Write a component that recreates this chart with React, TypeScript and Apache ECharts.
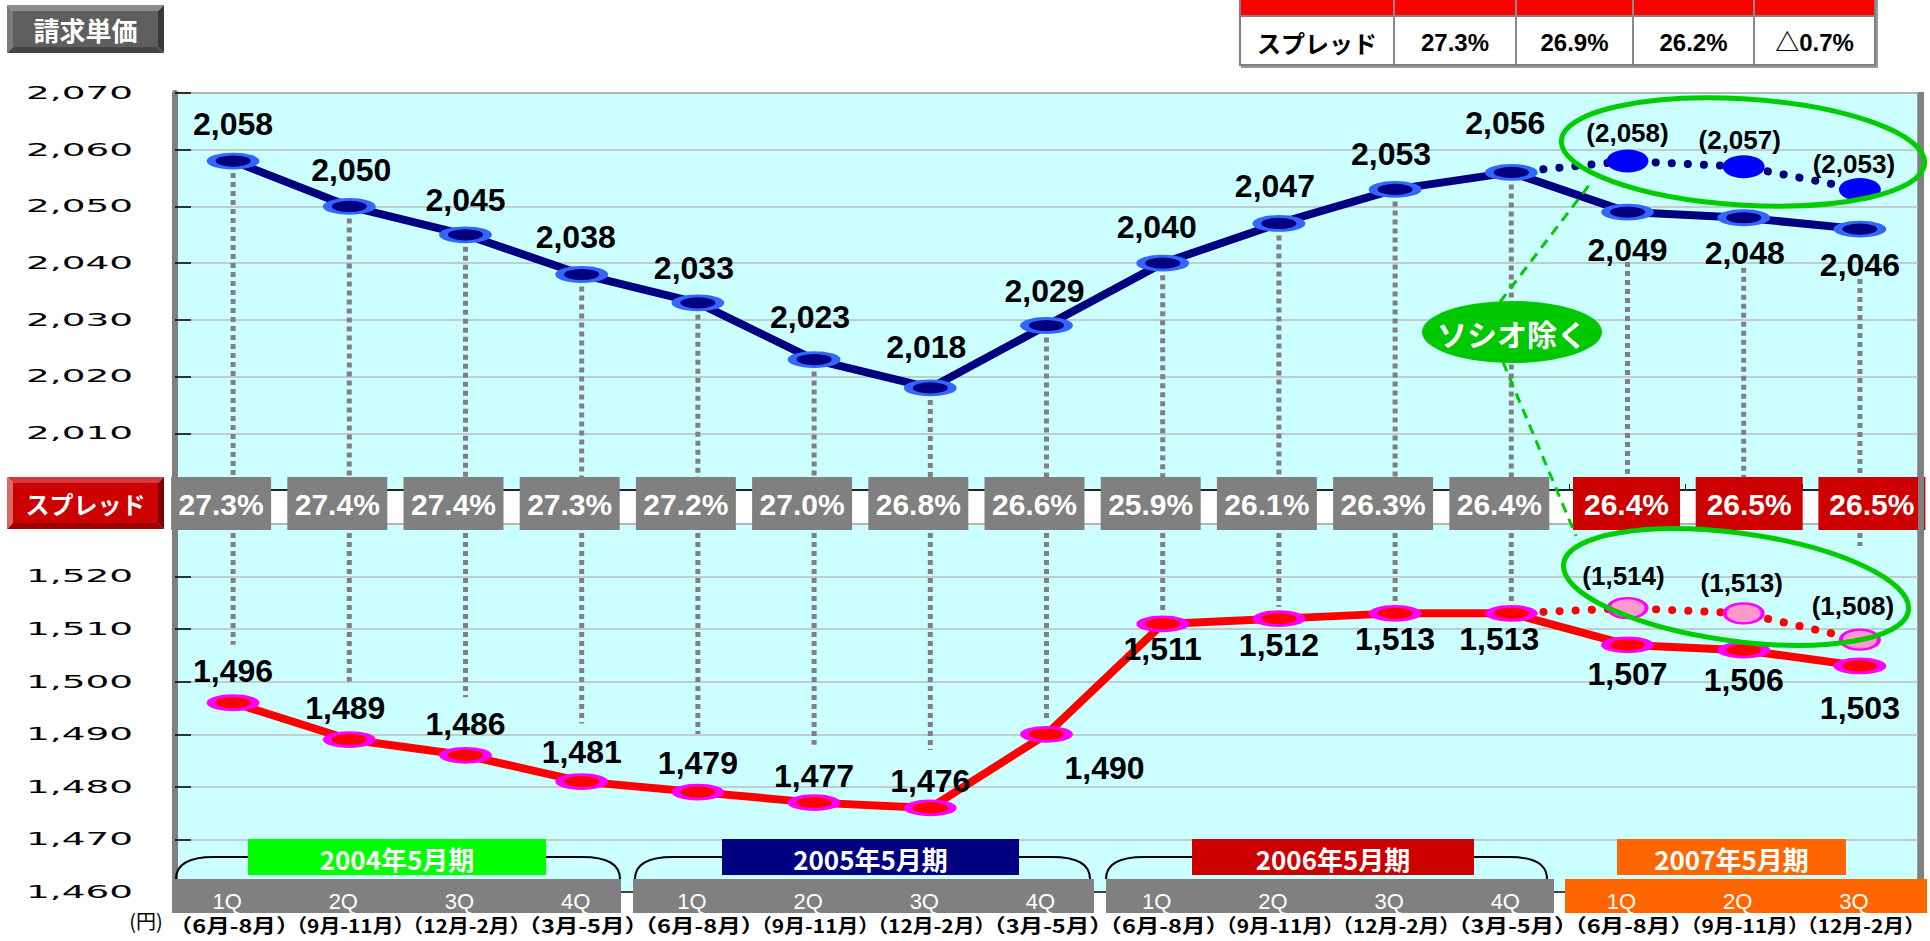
import React, { useEffect, useRef } from 'react';
import * as echarts from 'echarts';

// ---------------- data ----------------
const categories = ['04/1Q', '04/2Q', '04/3Q', '04/4Q', '05/1Q', '05/2Q', '05/3Q', '05/4Q', '06/1Q', '06/2Q', '06/3Q', '06/4Q', '07/1Q', '07/2Q', '07/3Q'];
const quarterLabels = ['1Q', '2Q', '3Q', '4Q', '1Q', '2Q', '3Q', '4Q', '1Q', '2Q', '3Q', '4Q', '1Q', '2Q', '3Q'];
const monthLabels = [
  '（6月-8月）', '（9月-11月）', '（12月-2月）', '（3月-5月）',
  '（6月-8月）', '（9月-11月）', '（12月-2月）', '（3月-5月）',
  '（6月-8月）', '（9月-11月）', '（12月-2月）', '（3月-5月）',
  '（6月-8月）', '（9月-11月）', '（12月-2月）',
];
const periodLabels = ['2004年5月期', '2005年5月期', '2006年5月期', '2007年5月期'];
const billingPrice = [2058, 2050, 2045, 2038, 2033, 2023, 2018, 2029, 2040, 2047, 2053, 2056, 2049, 2048, 2046];
const billingPriceExSocio: (number | null)[] = [null, null, null, null, null, null, null, null, null, null, null, 2056, 2058, 2057, 2053];
const costPrice = [1496, 1489, 1486, 1481, 1479, 1477, 1476, 1490, 1511, 1512, 1513, 1513, 1507, 1506, 1503];
const costPriceExSocio: (number | null)[] = [null, null, null, null, null, null, null, null, null, null, null, 1513, 1514, 1513, 1508];
const spreadRate = [27.3, 27.4, 27.4, 27.3, 27.2, 27.0, 26.8, 26.6, 25.9, 26.1, 26.3, 26.4, 26.4, 26.5, 26.5];
const upperTicks = [2010, 2020, 2030, 2040, 2050, 2060, 2070];
const lowerTicks = [1460, 1470, 1480, 1490, 1500, 1510, 1520];
const summaryRow = ['スプレッド', '27.3%', '26.9%', '26.2%', '△0.7%'];

const UPPER_MIN = 2000;
const UPPER_MAX = 2070;
const LOWER_MIN = 1460;
const LOWER_MAX = 1530;

// ---------------- label placement (styling) ----------------
const upperLabelOffsets = [[0, -37], [2, -36], [0, -35], [-6, -37], [-4, -35], [-4, -43], [-4, -41], [-2, -35], [-6, -36], [-4, -37], [-4, -35], [-6, -49], [0, 38], [1, 35], [0, 36]];
const lowerLabelOffsets = [[0, -32], [-4, -32], [0, -31], [0, -30], [0, -29], [0, -27], [0, -27], [58, 34], [0, 25], [0, 26], [0, 26], [-12, 26], [0, 29], [0, 30], [0, 42]];
const upperExOffsets: Record<number, number[]> = { 12: [0, -28], 13: [-4, -27], 14: [-6, -25] };
const lowerExOffsets: Record<number, number[]> = { 12: [-4, -32], 13: [-2, -30], 14: [-7, -34] };

const NUM_FONT = 'Liberation Sans, Arial, sans-serif';
const JP_FONT = 'Noto Sans CJK JP, sans-serif';
const ELLIPSE = 'path://M50,0 C77.6,0 100,22.4 100,50 C100,77.6 77.6,100 50,100 C22.4,100 0,77.6 0,50 C0,22.4 22.4,0 50,0 Z';

const fmt = (v: number) => String(v).replace(/\B(?=(\d{3})+(?!\d))/g, ',');

function txt(text: string, x: number, y: number, size: number, fill: string, opts: any = {}) {
  return {
    type: 'text',
    x,
    y,
    z: opts.z ?? 30,
    scaleX: opts.scaleX ?? 1,
    style: {
      text,
      x: 0,
      y: 0,
      fill,
      fontSize: size,
      lineHeight: opts.lineHeight,
      fontWeight: opts.bold ? 'bold' : 'normal',
      fontFamily: opts.font ?? NUM_FONT,
      align: opts.align ?? 'center',
      verticalAlign: 'middle',
      textAlign: opts.align ?? 'center',
      textVerticalAlign: 'middle',
    },
  };
}

function bevelButton(x: number, y: number, w: number, h: number, b: number, c: any, text: string, size: number) {
  const poly = (points: number[][], fill: string) => ({ type: 'polygon', z: 25, shape: { points }, style: { fill } });
  return [
    poly([[x, y], [x + w, y], [x + w - b, y + b], [x + b, y + b]], c.top),
    poly([[x, y], [x + b, y + b], [x + b, y + h - b], [x, y + h]], c.left),
    poly([[x + w, y], [x + w, y + h], [x + w - b, y + h - b], [x + w - b, y + b]], c.right),
    poly([[x, y + h], [x + b, y + h - b], [x + w - b, y + h - b], [x + w, y + h]], c.bottom),
    { type: 'rect', z: 25, shape: { x: x + b, y: y + b, width: w - 2 * b, height: h - 2 * b }, style: { fill: c.face } },
    txt(text, x + w / 2, y + h / 2, size, '#FFFFFF', { bold: true, font: JP_FONT, z: 26 }),
  ];
}

function buildOption(): any {
  const axisY = (gridIndex: number, min: number, max: number) => ({
    type: 'value',
    gridIndex,
    min,
    max,
    interval: 10,
    axisLabel: { show: false },
    axisLine: { show: true, lineStyle: { color: '#808080', width: 6 } },
    axisTick: { show: true, inside: true, length: 16, lineStyle: { color: '#000000', width: 1.5 } },
    splitLine: { show: true, lineStyle: { color: '#BDBDBD', width: 1.5 } },
  });
  return {
    animation: false,
    backgroundColor: '#FFFFFF',
    grid: [
      { left: 175, top: 93, width: 1743, height: 397, show: true, backgroundColor: '#CCFFFF', borderColor: '#9A9A9A', borderWidth: 2, outerBoundsMode: 'none' },
      { left: 175, top: 524, width: 1743, height: 368, show: true, backgroundColor: '#CCFFFF', borderColor: '#9A9A9A', borderWidth: 2, outerBoundsMode: 'none' },
    ],
    xAxis: [
      {
        type: 'category', gridIndex: 0, data: categories, boundaryGap: true,
        axisLine: { show: true, lineStyle: { color: '#222222', width: 2 } },
        axisTick: { show: true, inside: true, length: 6, lineStyle: { color: '#222222', width: 1 } },
        axisLabel: { show: false },
        splitLine: { show: false },
      },
      {
        type: 'category', gridIndex: 1, data: categories, boundaryGap: true,
        axisLine: { show: true, lineStyle: { color: '#404040', width: 2 } },
        axisTick: { show: false },
        axisLabel: { show: false },
        splitLine: { show: false },
      },
    ],
    yAxis: [axisY(0, UPPER_MIN, UPPER_MAX), axisY(1, LOWER_MIN, LOWER_MAX)],
    series: [
      // vertical dotted guides (upper part)
      {
        type: 'custom', xAxisIndex: 0, yAxisIndex: 0, z: 2, clip: false, silent: true,
        data: billingPrice.map((v, i) => [i, v]),
        renderItem: (params: any, api: any) => {
          const i = params.dataIndex;
          const p = api.coord([i, api.value(1)]);
          const b = api.coord([i, UPPER_MIN]);
          const start = p[1] + (i >= 12 ? 50 : 12);
          return { type: 'line', shape: { x1: p[0], y1: start, x2: p[0], y2: b[1] }, style: { stroke: '#808080', lineWidth: 5, lineDash: [5, 4] } };
        },
      },
      // vertical dotted guides (lower part)
      {
        type: 'custom', xAxisIndex: 1, yAxisIndex: 1, z: 2, clip: false, silent: true,
        data: costPrice.map((v, i) => [i, v]),
        renderItem: (params: any, api: any) => {
          const i = params.dataIndex;
          const p = api.coord([i, api.value(1)]);
          const t = api.coord([i, LOWER_MAX]);
          let end: number;
          if (i <= 6) end = p[1] - 58;
          else if (i === 7) end = p[1] - 16;
          else if (i <= 11) end = p[1] - 12;
          else if (i === 14) end = t[1] + 22;
          else return null;
          return { type: 'line', shape: { x1: p[0], y1: t[1], x2: p[0], y2: end }, style: { stroke: '#808080', lineWidth: 5, lineDash: [5, 4] } };
        },
      },
      // upper projection (ソシオ除く)
      {
        type: 'line', xAxisIndex: 0, yAxisIndex: 0, z: 3, silent: true,
        data: billingPriceExSocio.map((v, i) =>
          v == null ? '-' : { value: v, symbol: i === 11 ? 'none' : ELLIPSE, label: { show: i !== 11, offset: upperExOffsets[i] ?? [0, -28] } }),
        symbol: ELLIPSE, symbolSize: [42, 23],
        lineStyle: { color: '#000080', width: 8, type: [0.1, 16], cap: 'round' },
        itemStyle: { color: '#0000FF', borderWidth: 0 },
        label: { show: true, position: 'inside', formatter: (p: any) => '(' + fmt(p.value) + ')', fontSize: 26, fontWeight: 'bold', fontFamily: NUM_FONT, color: '#000000' },
      },
      // lower projection (ソシオ除く)
      {
        type: 'line', xAxisIndex: 1, yAxisIndex: 1, z: 3, silent: true,
        data: costPriceExSocio.map((v, i) =>
          v == null ? '-' : { value: v, symbol: i === 11 ? 'none' : ELLIPSE, label: { show: i !== 11, offset: lowerExOffsets[i] ?? [0, -30] } }),
        symbol: ELLIPSE, symbolSize: [38, 20],
        lineStyle: { color: '#FF0000', width: 8, type: [0.1, 16], cap: 'round' },
        itemStyle: { color: '#FF99CC', borderColor: '#FF00FF', borderWidth: 3 },
        label: { show: true, position: 'inside', formatter: (p: any) => '(' + fmt(p.value) + ')', fontSize: 26, fontWeight: 'bold', fontFamily: NUM_FONT, color: '#000000' },
      },
      // 請求単価
      {
        type: 'line', name: '請求単価', xAxisIndex: 0, yAxisIndex: 0, z: 4, silent: true,
        data: billingPrice.map((v, i) => ({ value: v, label: { offset: upperLabelOffsets[i] } })),
        symbol: ELLIPSE, symbolSize: [44, 14],
        lineStyle: { color: '#000080', width: 8 },
        itemStyle: { color: '#000080', borderColor: '#3366FF', borderWidth: 5 },
        label: { show: true, position: 'inside', formatter: (p: any) => fmt(p.value), fontSize: 32, fontWeight: 'bold', fontFamily: NUM_FONT, color: '#000000' },
      },
      // 仕入単価
      {
        type: 'line', name: '仕入単価', xAxisIndex: 1, yAxisIndex: 1, z: 4, silent: true,
        data: costPrice.map((v, i) => ({ value: v, label: { offset: lowerLabelOffsets[i] } })),
        symbol: ELLIPSE, symbolSize: [44, 14],
        lineStyle: { color: '#FF0000', width: 8 },
        itemStyle: { color: '#FF0000', borderColor: '#FF00FF', borderWidth: 5 },
        label: { show: true, position: 'inside', formatter: (p: any) => fmt(p.value), fontSize: 32, fontWeight: 'bold', fontFamily: NUM_FONT, color: '#000000' },
      },
      // spread boxes
      {
        type: 'custom', xAxisIndex: 0, yAxisIndex: 0, z: 6, clip: false, silent: true,
        data: spreadRate.map((v, i) => [i, v]),
        renderItem: (params: any, api: any) => {
          const i = params.dataIndex;
          const b = api.coord([i, UPPER_MIN]);
          const red = i >= 12;
          const w = red ? 107 : 100;
          const cx = b[0] + (red ? (i - 12) * 6.5 - 1 : -12);
          return {
            type: 'group',
            children: [
              { type: 'rect', shape: { x: cx - w / 2, y: b[1] - 13, width: w, height: 53 }, style: { fill: red ? '#CC0000' : '#808080' } },
              {
                type: 'text',
                style: {
                  x: cx, y: b[1] + 14, text: api.value(1).toFixed(1) + '%', fill: '#FFFFFF',
                  fontSize: 30, fontWeight: 'bold', fontFamily: NUM_FONT,
                  align: 'center', verticalAlign: 'middle', textAlign: 'center', textVerticalAlign: 'middle',
                },
              },
            ],
          };
        },
      },
    ],
  };
}

function buildGraphics(chart: any) {
  const els: any[] = [];
  // y tick labels (wide font)
  upperTicks.forEach((v) => {
    const y = chart.convertToPixel({ yAxisIndex: 0 }, v);
    els.push(txt(fmt(v), 133, y, 17, '#000000', { align: 'right', font: 'DejaVu Sans, sans-serif', scaleX: 2.2 }));
  });
  lowerTicks.forEach((v) => {
    const y = chart.convertToPixel({ yAxisIndex: 1 }, v);
    els.push(txt(fmt(v), 133, y, 17, '#000000', { align: 'right', font: 'DejaVu Sans, sans-serif', scaleX: 2.2 }));
  });

  // right frame
  els.push({ type: 'line', z: 8, shape: { x1: 1921, y1: 92, x2: 1921, y2: 892 }, style: { stroke: '#808080', lineWidth: 6 } });

  // buttons
  els.push(...bevelButton(7, 5, 157, 48, 6, { face: '#5E5E5E', top: '#8C8C8C', left: '#7A7A7A', right: '#3A3A3A', bottom: '#454545' }, '請求単価', 26));
  els.push(...bevelButton(7, 477, 157, 52, 6, { face: '#CC0000', top: '#D63A3A', left: '#E06666', right: '#7A0000', bottom: '#A00000' }, 'スプレッド', 24));

  // summary table (top right)
  const cols = [1240, 1394, 1516, 1633, 1754, 1875];
  els.push({ type: 'rect', z: 25, shape: { x: 1240, y: -2, width: 635, height: 18 }, style: { fill: '#FF0000', stroke: '#808080', lineWidth: 2 } });
  els.push({ type: 'rect', z: 25, shape: { x: 1240, y: 16, width: 635, height: 49 }, style: { fill: '#FFFFFF', stroke: '#808080', lineWidth: 2 } });
  els.push({ type: 'polyline', z: 25, shape: { points: [[1877, 0], [1877, 67], [1241, 67]] }, style: { stroke: '#9A9A9A', lineWidth: 2, fill: null } });
  cols.slice(1, -1).forEach((x) => {
    els.push({ type: 'line', z: 26, shape: { x1: x, y1: 0, x2: x, y2: 65 }, style: { stroke: '#8A8A8A', lineWidth: 2 } });
  });
  summaryRow.forEach((t, k) => {
    els.push(txt(t, (cols[k] + cols[k + 1]) / 2, 42, 24, '#000000', { bold: true, font: k === 0 ? JP_FONT : NUM_FONT + ', Noto Sans CJK JP', z: 27 }));
  });

  // annotation: ソシオ除く
  els.push({ type: 'line', z: 12, shape: { x1: 1500, y1: 302, x2: 1590, y2: 184 }, style: { stroke: '#00CC00', lineWidth: 3, lineDash: [10, 7] } });
  els.push({ type: 'line', z: 12, shape: { x1: 1503, y1: 362, x2: 1576, y2: 536 }, style: { stroke: '#00CC00', lineWidth: 3, lineDash: [10, 7] } });
  els.push({ type: 'ellipse', z: 12, x: 1743, y: 152, rotation: -0.063, shape: { cx: 0, cy: 0, rx: 182, ry: 53 }, style: { fill: null, stroke: '#00CC00', lineWidth: 5 } });
  els.push({ type: 'ellipse', z: 12, x: 1736, y: 587, rotation: -0.134, shape: { cx: 0, cy: 0, rx: 174, ry: 54 }, style: { fill: null, stroke: '#00CC00', lineWidth: 5 } });
  els.push({ type: 'ellipse', z: 13, shape: { cx: 1512, cy: 332, rx: 90, ry: 31 }, style: { fill: '#00C800' } });
  els.push(txt('ソシオ除く', 1512, 333, 30, '#FFFFFF', { bold: true, font: JP_FONT, z: 14 }));

  // period braces
  [[176, 620], [635, 1090], [1106, 1547]].forEach(([L, R]) => {
    const st = { stroke: '#000000', lineWidth: 2, fill: null };
    els.push({ type: 'bezierCurve', z: 15, shape: { x1: L, y1: 879, x2: L + 38, y2: 857, cpx1: L, cpy1: 857 }, style: st });
    els.push({ type: 'line', z: 15, shape: { x1: L + 38, y1: 857, x2: R - 38, y2: 857 }, style: st });
    els.push({ type: 'bezierCurve', z: 15, shape: { x1: R - 38, y1: 857, x2: R, y2: 879, cpx1: R, cpy1: 857 }, style: st });
  });

  // quarter cells
  [
    { x: 172, w: 449, c: '#808080' },
    { x: 633, w: 461, c: '#808080' },
    { x: 1106, w: 448, c: '#808080' },
    { x: 1565, w: 362, c: '#FF6600' },
  ].forEach((g) => {
    els.push({ type: 'rect', z: 16, shape: { x: g.x, y: 879, width: g.w, height: 34 }, style: { fill: g.c } });
  });
  quarterLabels.forEach((q, i) => {
    const x = chart.convertToPixel({ xAxisIndex: 1 }, i);
    els.push(txt(q, x - 6, 901, 22, '#FFFFFF', { z: 17 }));
  });
  // month labels under each quarter
  monthLabels.forEach((m, i) => {
    const x = chart.convertToPixel({ xAxisIndex: 1 }, i);
    const short = m.length <= 7;
    els.push(txt(m, x + 1, 925, 19, '#000000', { bold: true, font: JP_FONT, scaleX: short ? 1.24 : 1.1, lineHeight: 20, z: 17 }));
  });

  // fiscal period boxes
  [
    { x: 248, w: 298, c: '#00FF00' },
    { x: 722, w: 297, c: '#000080' },
    { x: 1192, w: 282, c: '#CC0000' },
    { x: 1617, w: 229, c: '#FF6600' },
  ].forEach((b, k) => {
    els.push({ type: 'rect', z: 18, shape: { x: b.x, y: 839, width: b.w, height: 36 }, style: { fill: b.c } });
    els.push(txt(periodLabels[k], b.x + b.w / 2, 858, 26, '#FFFFFF', { bold: true, font: JP_FONT, z: 19 }));
  });

  // unit
  els.push(txt('(円)', 146, 920, 20, '#000000', { font: JP_FONT }));
  return els;
}

export default function App() {
  const ref = useRef<HTMLDivElement>(null);
  useEffect(() => {
    const chart = echarts.init(ref.current as HTMLDivElement, null, { renderer: 'svg' });
    chart.setOption(buildOption());
    chart.setOption({ graphic: { elements: buildGraphics(chart) } });
    return () => chart.dispose();
  }, []);
  return <div ref={ref} style={{ position: 'absolute', left: 0, top: 0, width: 1930, height: 941, background: '#FFFFFF' }} />;
}
